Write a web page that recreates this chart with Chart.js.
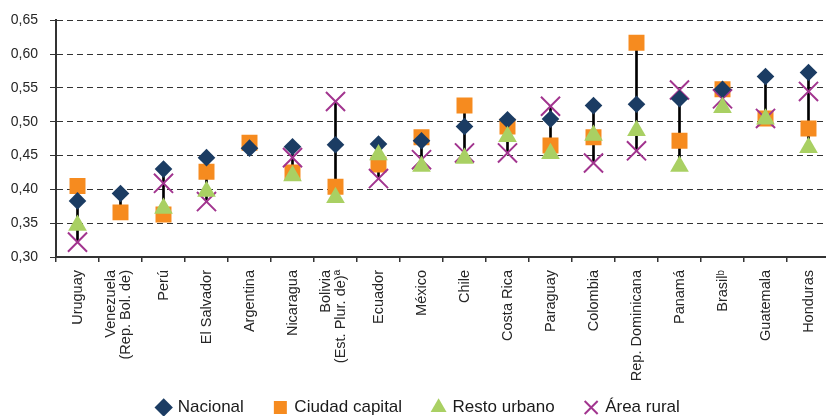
<!DOCTYPE html>
<html>
<head>
<meta charset="utf-8">
<script src="https://cdn.jsdelivr.net/npm/chart.js@4.4.1/dist/chart.umd.min.js"></script>
<style>
  html, body { margin: 0; padding: 0; overflow: hidden; background: #fff; }
  #wrap { width: 830px; height: 416px; }
</style>
</head>
<body>
<div id="wrap"><canvas id="chart" width="830" height="416"></canvas></div>
<script>
// Índice por país (ordenado por valor nacional)
const COUNTRIES = [
  "Uruguay", ["Venezuela", "(Rep. Bol. de)"], "Perú", "El Salvador", "Argentina", "Nicaragua",
  ["Bolivia", "(Est. Plur. de)ª"], "Ecuador", "México", "Chile", "Costa Rica", "Paraguay",
  "Colombia", "Rep. Dominicana", "Panamá", "Brasilᵇ", "Guatemala", "Honduras",
];
const NACIONAL       = [0.383, 0.394, 0.430, 0.447, 0.461, 0.463, 0.466, 0.467, 0.472, 0.493, 0.503, 0.504, 0.524, 0.526, 0.534, 0.548, 0.567, 0.573];
const CIUDAD_CAPITAL = [0.405, 0.366, 0.363, 0.426, 0.469, 0.425, 0.404, 0.437, 0.477, 0.524, 0.493, 0.465, 0.477, 0.617, 0.472, 0.548, 0.505, 0.490];
const RESTO_URBANO   = [0.347, null,  0.372, 0.397, null,  0.420, 0.388, 0.451, 0.434, 0.446, 0.478, 0.453, 0.480, 0.487, 0.434, 0.521, 0.504, 0.462];
const AREA_RURAL     = [0.322, null,  0.409, 0.382, null,  0.447, 0.530, 0.416, 0.444, 0.454, 0.454, 0.523, 0.439, 0.457, 0.547, 0.534, 0.505, 0.545];
const Y_TICK_LABELS  = ["0,30", "0,35", "0,40", "0,45", "0,50", "0,55", "0,60", "0,65"];

const NAVY = "#1b3c63", ORANGE = "#f68b1f", GREEN = "#a9d063", PURPLE = "#a2358f";
const TEXT = "#262626", AXIS = "#333333";

Chart.defaults.font.family = "'Liberation Sans', Arial, sans-serif";
Chart.defaults.color = TEXT;

// línea vertical entre el mínimo y el máximo de cada país
const ranges = COUNTRIES.map((_, i) => {
  const vals = [NACIONAL[i], CIUDAD_CAPITAL[i], RESTO_URBANO[i], AREA_RURAL[i]].filter((v) => v != null);
  return [Math.min(...vals), Math.max(...vals)];
});

const markers = (label, data, style, color, radius, order) => ({
  type: "line",
  label,
  data,
  order,
  showLine: false,
  pointStyle: style,
  pointRadius: radius,
  pointHoverRadius: radius,
  backgroundColor: color,
  borderColor: color,
  pointBorderWidth: style === "crossRot" ? 2 : 0,
  borderWidth: style === "crossRot" ? 2 : 0,
});

// ajustes finos: leyenda centrada como en el original, etiquetas de dos líneas centradas
const tweakLayout = {
  id: "tweakLayout",
  afterLayout(chart) {
    chart.scales.x.bottom = chart.height;           // no recortar "Rep. Dominicana"
    chart.legend.left = 0;
    chart.legend.right = 838;
  },
  beforeDraw(chart) {
    const items = chart.scales.x.getLabelItems(chart.chartArea);
    items.forEach((it) => {
      if (Array.isArray(it.label) && !it._shifted) {
        it.options.translation[0] -= 10;
        it._shifted = true;
      }
    });
  },
};

new Chart(document.getElementById("chart"), {
  type: "bar",
  data: {
    labels: COUNTRIES,
    datasets: [
      markers("Nacional", NACIONAL, "rectRot", NAVY, 8.8, 1),
      markers("Ciudad capital", CIUDAD_CAPITAL, "rect", ORANGE, 11.3, 3),
      markers("Resto urbano", RESTO_URBANO, "triangle", GREEN, 10.8, 0),
      markers("Área rural", AREA_RURAL, "crossRot", PURPLE, 13.5, 2),
      {
        type: "bar",
        label: "rango",
        data: ranges,
        order: 5,
        backgroundColor: "#000",
        barThickness: 2,
        borderWidth: 0,
      },
    ],
  },
  options: {
    responsive: false,
    animation: false,
    layout: { autoPadding: false, padding: { top: 18, left: 0, right: 0, bottom: -10 } },
    plugins: {
      tooltip: { enabled: false },
      legend: {
        position: "bottom",
        labels: {
          usePointStyle: true,
          boxWidth: 11,
          boxHeight: 13,
          padding: 31,
          color: "#1a1a1a",
          font: { size: 17 },
          filter: (item) => item.datasetIndex < 4,
          sort: (a, b) => a.datasetIndex - b.datasetIndex,
        },
      },
    },
    scales: {
      x: {
        offset: true,
        grid: { offset: true, drawOnChartArea: false, drawTicks: true, tickLength: 5, color: AXIS, lineWidth: 1.5 },
        border: { color: AXIS, width: 2 },
        ticks: {
          autoSkip: false, minRotation: 90, maxRotation: 90, padding: 8, color: TEXT,
          font: { size: 14.5, lineHeight: 1.1 },
        },
        afterFit: (s) => { s.height = 111; s.paddingLeft = 0; s.paddingRight = 0; },
      },
      y: {
        min: 0.3,
        max: 0.65,
        grid: { color: AXIS, lineWidth: 1, tickLength: 6 },
        border: { color: AXIS, width: 2, dash: [6, 4] },
        ticks: {
          stepSize: 0.05,
          padding: 12,
          color: TEXT,
          font: { size: 14 },
          callback: (v, i) => Y_TICK_LABELS[i],
        },
        afterFit: (s) => { s.width = 56; },
      },
    },
  },
  plugins: [tweakLayout],
});
</script>
</body>
</html>
